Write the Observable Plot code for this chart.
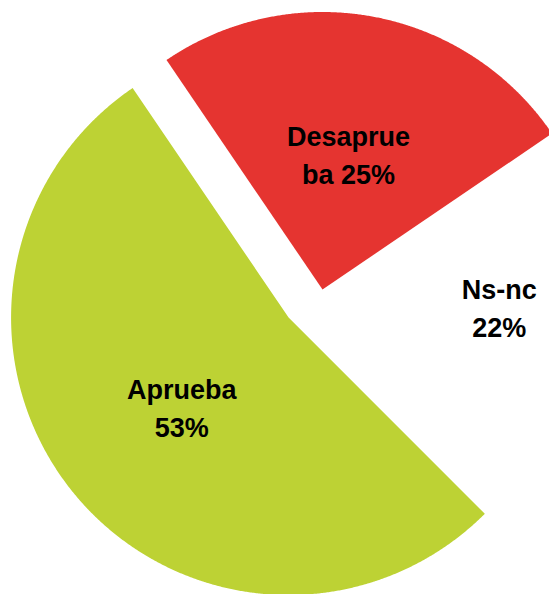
<!DOCTYPE html>
<html>
<head>
<meta charset="utf-8">
<script src="https://cdn.jsdelivr.net/npm/d3@7"></script>
<script src="https://cdn.jsdelivr.net/npm/@observablehq/plot@0.6"></script>
<style>
  html, body { margin: 0; padding: 0; background: #ffffff; }
  #chart svg { display: block; }
</style>
</head>
<body>
<div id="chart"></div>
<script>
// ---- data ----
const categories = ["Aprueba", "Desaprueba", "Ns-nc"];
const values = [53, 25, 22];
const labels = ["Aprueba\n53%", "Desaprue\nba 25%", "Ns-nc\n22%"];

// ---- styles / layout ----
const colors = ["#bdd234", "#e53430", "#ffffff"];
const explode = [0.1586, 0, 0.14];   // radial offset per slice (in radius units)
const startDeg = 135;                 // angle of first slice (clockwise from 12 o'clock)
const W = 549, H = 594;
const R = 277.5, CX = 322, CY = 289;  // pie radius & center in pixels

const pie = d3.pie().sort(null).value(d => d.value)
  .startAngle(startDeg * Math.PI / 180)
  .endAngle(startDeg * Math.PI / 180 + 2 * Math.PI);
const arcs = pie(categories.map((c, i) => ({category: c, value: values[i], label: labels[i], i})));

const pts = [];
const labelPts = [];
for (const a of arcs) {
  const i = a.data.i;
  const mid = (a.startAngle + a.endAngle) / 2;
  const ox = explode[i] * Math.sin(mid), oy = explode[i] * Math.cos(mid);
  pts.push({category: a.data.category, x: ox, y: oy});
  const n = Math.max(2, Math.ceil((a.endAngle - a.startAngle) / (Math.PI / 720)));
  for (let k = 0; k <= n; k++) {
    const t = a.startAngle + (a.endAngle - a.startAngle) * k / n;
    pts.push({category: a.data.category, x: ox + Math.sin(t), y: oy + Math.cos(t)});
  }
  labelPts.push({category: a.data.category, label: a.data.label,
    x: ox + 0.5 * Math.sin(mid), y: oy + 0.5 * Math.cos(mid)});
}

const chart = Plot.plot({
  width: W, height: H,
  margin: 0,
  x: {domain: [-CX / R, (W - CX) / R], axis: null},
  y: {domain: [-(H - CY) / R, CY / R], axis: null},
  color: {domain: categories, range: colors},
  marks: [
    Plot.line(pts, {x: "x", y: "y", z: "category", fill: "category", stroke: "none", curve: "linear-closed"}),
    Plot.text(labelPts, {x: "x", y: "y", text: "label", fill: "#000000",
      fontSize: 27, fontWeight: "bold", fontFamily: "'Liberation Sans', Arial, sans-serif",
      lineHeight: 38 / 27})
  ]
});
document.getElementById("chart").appendChild(chart);
</script>
</body>
</html>
